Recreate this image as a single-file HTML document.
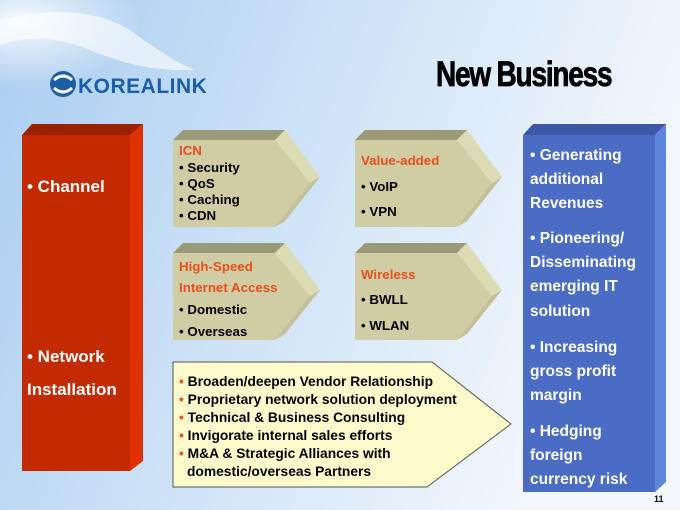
<!DOCTYPE html>
<html><head><style>
body{margin:0;width:680px;height:510px;overflow:hidden;font-family:"Liberation Sans",sans-serif}
svg{display:block}
</style></head><body>
<svg width="680" height="510" viewBox="0 0 680 510" xmlns="http://www.w3.org/2000/svg" font-family="Liberation Sans, sans-serif" font-weight="bold">
<defs>
<linearGradient id="bg" x1="0" y1="0" x2="1" y2="0.3">
<stop offset="0" stop-color="#a9cdf0"/><stop offset="0.5" stop-color="#cfe3f7"/><stop offset="1" stop-color="#f4f8fd"/>
</linearGradient>
<radialGradient id="glow" cx="0.1" cy="0.2" r="0.6"><stop offset="0" stop-color="#fff" stop-opacity="0.9"/><stop offset="1" stop-color="#fff" stop-opacity="0"/></radialGradient>
</defs>
<rect width="680" height="510" fill="url(#bg)"/>
<rect x="0" y="0" width="200" height="110" fill="url(#glow)"/>
<path d="M0 20 Q80 0 130 30 Q170 60 195 70 Q140 72 90 50 Q40 30 0 45Z" fill="#fff" opacity="0.6"/>
<!-- logo -->
<circle cx="63" cy="84" r="13" fill="#1d5ea8"/>
<path d="M54 80 Q63 72 72 80 M54 88 Q63 96 72 88" stroke="#fff" stroke-width="3" fill="none"/>
<text x="78" y="93" font-size="21" fill="#1d5ea8" letter-spacing="0.5">KOREALINK</text>
<text x="436" y="86" font-size="35" fill="#000" stroke="#000" stroke-width="0.8" transform="translate(436 0) scale(0.8 1) translate(-436 0)" letter-spacing="-1.5">New Business</text>
<!-- red box -->
<polygon points="22,135 32,124 143,124 130,135" fill="#9a2000"/>
<polygon points="130,135 143,124 143,461 130,471" fill="#e03000"/>
<rect x="22" y="135" width="108" height="336" fill="#c42a00"/>
<g fill="#fff" font-size="17">
<text x="27" y="192">• Channel</text>
<text x="27" y="362">• Network</text>
<text x="27" y="395">Installation</text>
</g>
<!-- blue box -->
<polygon points="523,135 533,124 666,124 655,135" fill="#3b57a6"/>
<polygon points="655,135 666,124 666,482 655,492" fill="#5e86dd"/>
<rect x="523" y="135" width="132" height="357" fill="#4a6cc5"/>
<g fill="#fff" font-size="15.5">
<text x="530" y="160">• Generating</text>
<text x="530" y="184">additional</text>
<text x="530" y="208">Revenues</text>
<text x="530" y="243">• Pioneering/</text>
<text x="530" y="267">Disseminating</text>
<text x="530" y="291">emerging  IT</text>
<text x="530" y="316">solution</text>
<text x="530" y="352">• Increasing</text>
<text x="530" y="376">gross profit</text>
<text x="530" y="400">margin</text>
<text x="530" y="436">• Hedging</text>
<text x="530" y="460">foreign</text>
<text x="530" y="484">currency risk</text>
</g>
<text x="654" y="502" font-size="9" fill="#000">11</text>
<!-- arrow boxes -->
<g id="ab">
<polygon points="173,140 183,130 285,130 275,140" fill="#9a9a78"/>
<polygon points="275,140 285,130 320,177 310,183" fill="#dcdcb4"/>
<polygon points="173,140 275,140 310,183 275,227 173,227" fill="#d0cca4"/>
<polygon points="275,227 310,183 320,177 285,221" fill="#c4c098"/>
</g>
<use href="#ab" x="182" y="0"/>
<use href="#ab" x="0" y="113"/>
<use href="#ab" x="182" y="113"/>
<g font-size="13.3">
<text x="179" y="155" fill="#e8501e">ICN</text>
<text x="179" y="172" fill="#000">• Security</text>
<text x="179" y="188" fill="#000">• QoS</text>
<text x="179" y="204" fill="#000">• Caching</text>
<text x="179" y="220" fill="#000">• CDN</text>
<text x="361" y="165" fill="#e8501e">Value-added</text>
<text x="361" y="191" fill="#000">• VoIP</text>
<text x="361" y="216" fill="#000">• VPN</text>
<text x="179" y="271" fill="#e8501e">High-Speed</text>
<text x="179" y="292" fill="#e8501e">Internet Access</text>
<text x="179" y="314" fill="#000">• Domestic</text>
<text x="179" y="336" fill="#000">• Overseas</text>
<text x="361" y="279" fill="#e8501e">Wireless</text>
<text x="361" y="304" fill="#000">• BWLL</text>
<text x="361" y="330" fill="#000">• WLAN</text>
</g>
<!-- bottom pentagon -->
<polygon points="173,362 432,362 511,424 427,487 173,487" fill="#fdfbcc" stroke="#555" stroke-width="1"/>
<g font-size="13.8" fill="#000">
<text x="179" y="386"><tspan fill="#e8501e">• </tspan>Broaden/deepen Vendor Relationship</text>
<text x="179" y="404"><tspan fill="#e8501e">• </tspan>Proprietary network solution deployment</text>
<text x="179" y="422"><tspan fill="#e8501e">• </tspan>Technical &amp; Business Consulting</text>
<text x="179" y="440"><tspan fill="#e8501e">• </tspan>Invigorate internal sales efforts</text>
<text x="179" y="458"><tspan fill="#e8501e">• </tspan>M&amp;A &amp; Strategic Alliances with</text>
<text x="187" y="476">domestic/overseas Partners</text>
</g>
</svg>
</body></html>
